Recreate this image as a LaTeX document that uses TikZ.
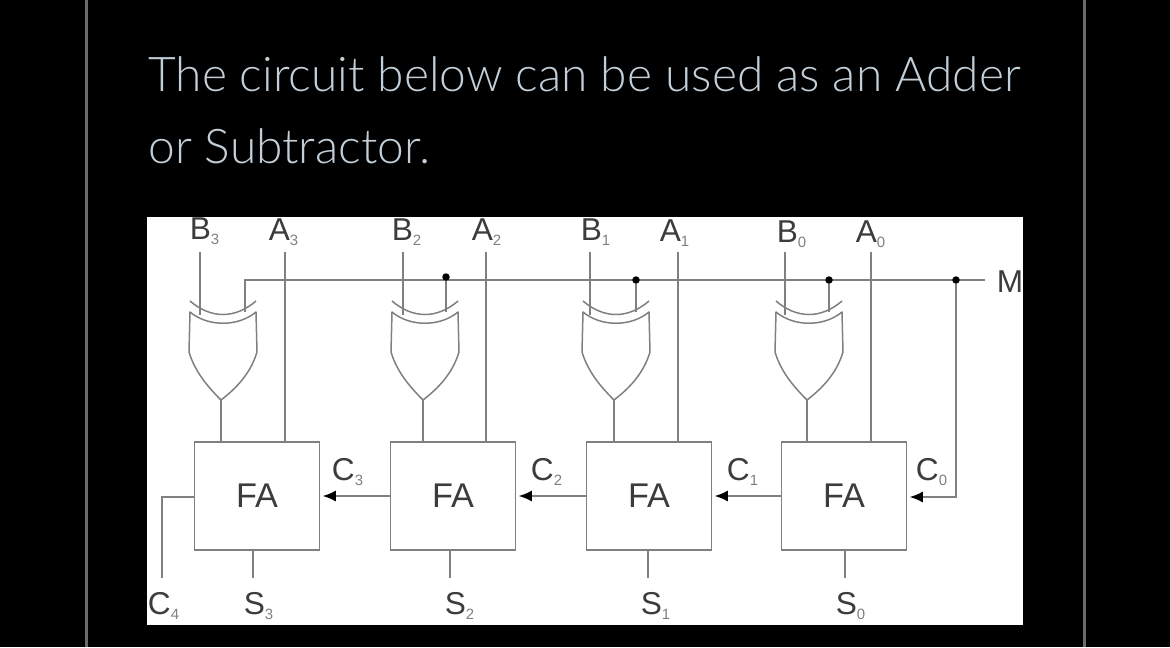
\documentclass[tikz,border=0pt]{standalone}
\usepackage{fontspec}
\setmainfont{Liberation Sans}
\newfontfamily\titlefont{Lato Light}
\usetikzlibrary{arrows.meta}
\definecolor{wire}{HTML}{808080}
\definecolor{ink}{HTML}{3C3C3C}
\definecolor{subink}{HTML}{808080}
\definecolor{titlecol}{HTML}{C3CFD8}
\definecolor{rulecol}{HTML}{6A6A6A}
\newcommand{\lab}[2]{#1\textsubscript{\color{subink}\fontsize{8.5}{8.5}\selectfont #2}}
\tikzset{
  wireline/.style={draw=wire,line width=0.85pt},
  sigarrow/.style={wireline,-{Latex[black,length=0.26cm,width=0.22cm]},shorten >=0.05cm},
  fabox/.style={draw=wire,line width=0.9pt,fill=white,inner sep=0pt,minimum width=2.5cm,minimum height=2.16cm,text=ink,font=\fontsize{19.5}{19.5}\selectfont},
  siglabel/.style={text=ink,inner sep=0pt,font=\fontsize{18}{18}\selectfont},
  wiredot/.style={circle,fill=black,inner sep=0pt,minimum size=0.15cm},
  titleline/.style={anchor=base west,inner sep=0pt,text=titlecol,font=\titlefont\fontsize{27.25}{27.25}\selectfont},
  xorgate/.pic={
    \draw[wireline,line join=round] (-33,0) .. controls (-15,15) and (15,15) .. (33,0)
      -- (34,40) .. controls (28,60) and (15,75) .. (-2,88)
      .. controls (-15,75) and (-28,60) .. (-34,40) -- cycle;
    \draw[wireline] (-33,-11) .. controls (-12,7) and (12,7) .. (33,-11);
    \coordinate (-out) at (-2,88);
  }
}
\begin{document}
\begin{tikzpicture}[x=0.02cm,y=-0.02cm]
%%Background
\fill[black] (0,0) rectangle (1170,647);
\fill[rulecol] (85,0) rectangle (88,647);
\fill[rulecol] (1083,0) rectangle (1086,647);
\fill[white] (147,217) rectangle (1023,625);
%%Title
\node[titleline] (title1) at (148,91) {The circuit below can be used as an Adder};
\node[titleline] (title2) at (148,163) {or Subtractor.};
%%Gates
\pic (gate3) at (223,312) {xorgate};
\pic (gate2) at (425,312) {xorgate};
\pic (gate1) at (616,312) {xorgate};
\pic (gate0) at (809,312) {xorgate};
%%Adders
\node[fabox] (FA3) at (257,496) {FA};
\node[fabox] (FA2) at (453,496) {FA};
\node[fabox] (FA1) at (649,496) {FA};
\node[fabox] (FA0) at (844,496) {FA};
%%Top labels
\node[siglabel] (B3) at (205,231) {\lab{B}{3}};
\node[siglabel] (A3) at (284,232) {\lab{A}{3}};
\node[siglabel] (B2) at (407,232) {\lab{B}{2}};
\node[siglabel] (A2) at (487,232) {\lab{A}{2}};
\node[siglabel] (B1) at (596,232) {\lab{B}{1}};
\node[siglabel] (A1) at (675,233) {\lab{A}{1}};
\node[siglabel] (B0) at (792,234) {\lab{B}{0}};
\node[siglabel] (A0) at (871,234) {\lab{A}{0}};
\node[siglabel] (M) at (1010,282) {M};
%%Bottom labels
\node[siglabel] (C4) at (164,606) {\lab{C}{4}};
\node[siglabel] (S3) at (259,606) {\lab{S}{3}};
\node[siglabel] (S2) at (460,606) {\lab{S}{2}};
\node[siglabel] (S1) at (656,606) {\lab{S}{1}};
\node[siglabel] (S0) at (851,606) {\lab{S}{0}};
%%Carry labels
\node[siglabel] (C3) at (348,472) {\lab{C}{3}};
\node[siglabel] (C2) at (547,472) {\lab{C}{2}};
\node[siglabel] (C1) at (743,472) {\lab{C}{1}};
\node[siglabel] (C0) at (932,472) {\lab{C}{0}};
%%Free ends
\coordinate (B3top) at (200,252);
\coordinate (B3in) at (200,315);
\coordinate (A3top) at (285,252);
\coordinate (A3in) at (285,442);
\coordinate (B2top) at (403,252);
\coordinate (B2in) at (403,315);
\coordinate (A2top) at (486,252);
\coordinate (A2in) at (486,442);
\coordinate (B1top) at (590,252);
\coordinate (B1in) at (590,315);
\coordinate (A1top) at (678,252);
\coordinate (A1in) at (678,442);
\coordinate (B0top) at (785,252);
\coordinate (B0in) at (785,315);
\coordinate (A0top) at (871,252);
\coordinate (A0in) at (871,442);
\coordinate (Mturn) at (245,280);
\coordinate (Mstart) at (245,312);
\coordinate (Mend) at (985,280);
\coordinate (M2in) at (446,312);
\coordinate (M1in) at (636,312);
\coordinate (M0in) at (829,312);
\coordinate (Mdrop) at (956,497);
\coordinate (C4turn) at (162,497);
\coordinate (C4end) at (162,578);
\coordinate (C4out) at (195,497);
\coordinate (S3out) at (253,550);
\coordinate (S3end) at (253,578);
\coordinate (S2out) at (450,550);
\coordinate (S2end) at (450,578);
\coordinate (S1out) at (648,550);
\coordinate (S1end) at (648,578);
\coordinate (S0out) at (845,550);
\coordinate (S0end) at (845,578);
%%Inputs
\draw[wireline] (B3top) -- (B3in);
\draw[wireline] (A3top) -- (A3in);
\draw[wireline] (B2top) -- (B2in);
\draw[wireline] (A2top) -- (A2in);
\draw[wireline] (B1top) -- (B1in);
\draw[wireline] (A1top) -- (A1in);
\draw[wireline] (B0top) -- (B0in);
\draw[wireline] (A0top) -- (A0in);
%%Mode line
\draw[wireline] (Mstart) -- (Mturn) -- (Mend);
%%Dots
\node[wiredot] (dot2) at (446,277) {};
\node[wiredot] (dot1) at (636,280) {};
\node[wiredot] (dot0) at (829,280) {};
\node[wiredot] (dotM) at (956,280) {};
\draw[wireline] (dot2) -- (M2in);
\draw[wireline] (dot1) -- (M1in);
\draw[wireline] (dot0) -- (M0in);
%%Gate outputs
\draw[wireline] (gate3-out) -- (gate3-out |- FA3.north);
\draw[wireline] (gate2-out) -- (gate2-out |- FA2.north);
\draw[wireline] (gate1-out) -- (gate1-out |- FA1.north);
\draw[wireline] (gate0-out) -- (gate0-out |- FA0.north);
%%Carries
\draw[sigarrow] (dotM) -- (Mdrop) -- (Mdrop -| FA0.east);
\draw[sigarrow] (FA0.west) -- (FA1.east);
\draw[sigarrow] (FA1.west) -- (FA2.east);
\draw[sigarrow] (FA2.west) -- (FA3.east);
\draw[wireline] (C4out) -- (C4turn) -- (C4end);
%%Sums
\draw[wireline] (S3out) -- (S3end);
\draw[wireline] (S2out) -- (S2end);
\draw[wireline] (S1out) -- (S1end);
\draw[wireline] (S0out) -- (S0end);
\end{tikzpicture}
\end{document}
